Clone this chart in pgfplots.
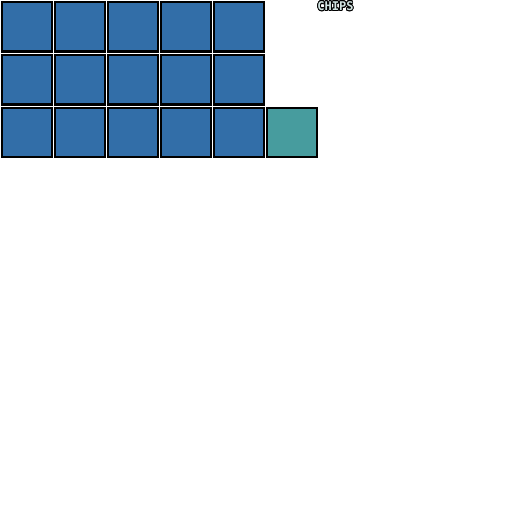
\documentclass[border=0pt]{standalone}
\usepackage{pgfplots}
\pgfplotsset{compat=1.18}
\usepackage{fontspec}
\newfontfamily\pixfont{DejaVu Sans Mono}
\usepackage{contour}
\contourlength{0.9pt}
\definecolor{chipblue}{RGB}{50,110,168}
\definecolor{chipteal}{RGB}{71,156,158}
\definecolor{labelfill}{RGB}{210,228,226}
\begin{document}
\begin{tikzpicture}
\begin{axis}[
    at={(0,0)}, anchor=south west,
    width=512bp, height=512bp,
    scale only axis,
    xmin=0, xmax=512, ymin=0, ymax=512,
    y dir=reverse,
    axis lines=none,
    ticks=none,
    clip=false,
]
% waffle cells: column centre x, row centre y (pixel units)
\addplot[only marks, mark=square*, mark size=24.7bp,
    mark options={fill=chipblue, draw=black, line width=2.2bp}]
    coordinates {
    (26.9,26.9) (79.9,26.9) (132.9,26.9) (185.9,26.9) (238.9,26.9)
    (26.9,79.9) (79.9,79.9) (132.9,79.9) (185.9,79.9) (238.9,79.9)
    (26.9,132.7) (79.9,132.7) (132.9,132.7) (185.9,132.7) (238.9,132.7)
    };
\addplot[only marks, mark=square*, mark size=24.7bp,
    mark options={fill=chipteal, draw=black, line width=2.2bp}]
    coordinates {(291.9,132.7)};
\node[anchor=center, inner sep=0pt, font=\pixfont\bfseries\fontsize{12bp}{13bp}\selectfont,
    text=labelfill] at (axis cs:335.5,6.5) {\contour{black}{CHIPS}};
\end{axis}
\path[use as bounding box] (0,0) rectangle (512bp,512bp);
\end{tikzpicture}
\end{document}
